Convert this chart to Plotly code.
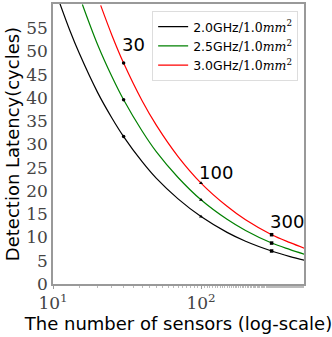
import math
import plotly.graph_objects as go

# points (number of sensors -> latency in cycles)
n_black = [11.1, 13, 15, 20, 25, 30, 40, 50, 70, 100, 150, 200, 300, 400, 500]
y_black = [60.4, 54.5, 49.7, 41.2, 35.7, 31.7, 26.3, 22.7, 18.3, 14.5, 11.1, 9.2, 7.1, 5.9, 5.1]

n_green = [15.8, 20, 25, 30, 40, 50, 70, 100, 150, 200, 300, 400, 500]
y_green = [60.1, 51.5, 44.6, 39.6, 32.9, 28.4, 22.9, 18.1, 13.9, 11.5, 8.8, 7.4, 6.4]

n_red = [21, 25, 30, 40, 50, 70, 100, 150, 200, 300, 400, 500]
y_red = [59.9, 53.5, 47.5, 39.4, 34.1, 27.4, 21.7, 16.7, 13.8, 10.6, 8.9, 7.7]

# marked design points
mark_n = [30, 100, 300]
mark_black = [31.7, 14.5, 7.1]
mark_green = [39.6, 18.1, 8.8]
mark_red = [47.5, 21.7, 10.6]
mark_symbols = ["circle", "triangle-up", "square"]
mark_labels = ["30", "100", "300"]
label_pos = [(35, 51.5), (126, 24.0), (380, 13.4)]

series = [
    ("2.0GHz", n_black, y_black, mark_black, "black"),
    ("2.5GHz", n_green, y_green, mark_green, "green"),
    ("3.0GHz", n_red, y_red, mark_red, "red"),
]

serif = "DejaVu Serif"
sans = "DejaVu Sans"

fig = go.Figure()
for name, xs, ys, marks, col in series:
    fig.add_trace(go.Scatter(
        x=xs, y=ys, mode="lines", line=dict(color=col, width=1.2, shape="spline"),
        name=f"{name}<span style='font-family:{serif}'>/1.0<i>mm</i><sup>2</sup></span>",
    ))
for name, xs, ys, marks, col in series:
    fig.add_trace(go.Scatter(
        x=mark_n, y=marks, mode="markers", showlegend=False,
        marker=dict(color="black", size=3.5, symbol=mark_symbols),
    ))

# annotation x on a log axis is given in log10 units
for lab, (px_, py_) in zip(mark_labels, label_pos):
    fig.add_annotation(x=math.log10(px_), y=py_, xref="x", yref="y", text=lab, showarrow=False,
                       font=dict(family=sans, size=18, color="black"), xanchor="center")

fig.update_layout(
    width=332, height=337,
    margin=dict(l=53, r=28, t=4, b=53),
    plot_bgcolor="white", paper_bgcolor="white",
    legend=dict(x=0.395, y=0.975, xanchor="left", yanchor="top", itemwidth=30,
                bordercolor="#dddddd", borderwidth=1, bgcolor="white",
                font=dict(family=sans, size=12.5, color="black"), tracegroupgap=0),
    xaxis=dict(
        type="log", range=[1, 2.696], tickvals=[10, 100],
        ticktext=["10<sup>1</sup>", "10<sup>2</sup>"], automargin=False,
        tickfont=dict(family=serif, size=17, color="#444"),
        showgrid=False, showline=True, linecolor="#999", mirror=True, linewidth=1.5,
        ticks="outside", ticklen=3, tickcolor="#999",
        minor=dict(ticks="outside", ticklen=2, tickcolor="#bbb", showgrid=False),
        title=dict(text="The number of sensors (log-scale)", standoff=4,
                   font=dict(family=sans, size=18, color="black")),
    ),
    yaxis=dict(
        range=[0, 60.2], tickvals=list(range(0, 60, 5)), automargin=False,
        tickfont=dict(family=serif, size=17, color="#444"),
        showgrid=False, showline=True, linecolor="#999", mirror=True, linewidth=1.5,
        ticks="", zeroline=False,
        title=dict(text="Detection Latency(cycles)", standoff=2,
                   font=dict(family=sans, size=18, color="black")),
    ),
)

fig.write_html("out.html", config={"displayModeBar": False},
               post_script="document.body.style.margin='0px';")
